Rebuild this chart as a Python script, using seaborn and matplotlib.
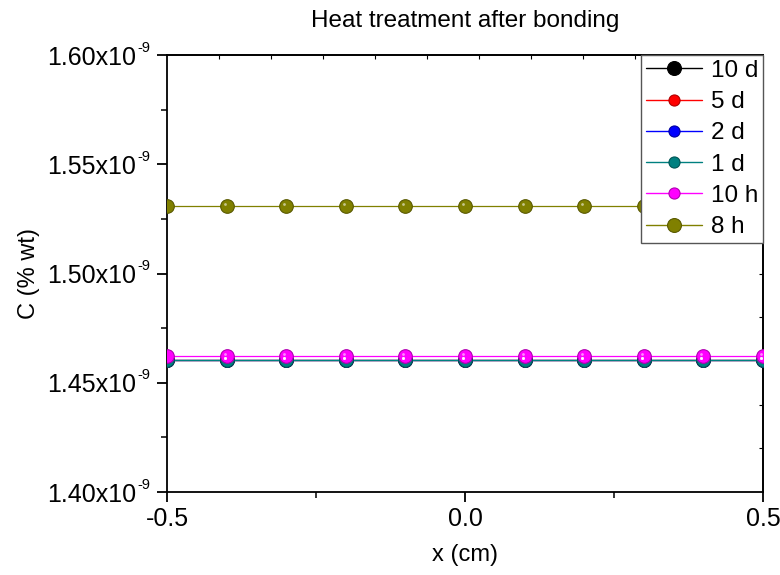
import numpy as np
import pandas as pd
import matplotlib
matplotlib.use("Agg")
import matplotlib.pyplot as plt
import matplotlib.transforms as mtransforms
from matplotlib.lines import Line2D
from matplotlib.ticker import FuncFormatter, MultipleLocator, FixedLocator
import seaborn as sns

# Concentration profiles across the bonded joint
x_cm = [-0.5, -0.4, -0.3, -0.2, -0.1, 0.0, 0.1, 0.2, 0.3, 0.4, 0.5]
series_labels = ["10 d", "5 d", "2 d", "1 d", "10 h", "8 h"]
c_10d = [1.4605e-9, 1.4605e-9, 1.4605e-9, 1.4605e-9, 1.4605e-9, 1.4605e-9,
         1.4605e-9, 1.4605e-9, 1.4605e-9, 1.4605e-9, 1.4605e-9]
c_5d = [1.4606e-9, 1.4606e-9, 1.4606e-9, 1.4606e-9, 1.4606e-9, 1.4606e-9,
        1.4606e-9, 1.4606e-9, 1.4606e-9, 1.4606e-9, 1.4606e-9]
c_2d = [1.4606e-9, 1.4606e-9, 1.4606e-9, 1.4606e-9, 1.4606e-9, 1.4606e-9,
        1.4606e-9, 1.4606e-9, 1.4606e-9, 1.4606e-9, 1.4606e-9]
c_1d = [1.4606e-9, 1.4606e-9, 1.4606e-9, 1.4606e-9, 1.4606e-9, 1.4606e-9,
        1.4606e-9, 1.4606e-9, 1.4606e-9, 1.4606e-9, 1.4606e-9]
c_10h = [1.4622e-9, 1.4622e-9, 1.4622e-9, 1.4622e-9, 1.4622e-9, 1.4622e-9,
         1.4622e-9, 1.4622e-9, 1.4622e-9, 1.4622e-9, 1.4622e-9]
c_8h = [1.5310e-9, 1.5310e-9, 1.5310e-9, 1.5310e-9, 1.5310e-9, 1.5310e-9,
        1.5310e-9, 1.5310e-9, 1.5310e-9, 1.5310e-9, 1.5310e-9]
series_values = [c_10d, c_5d, c_2d, c_1d, c_10h, c_8h]
series_colors = ["#000000", "#FF0000", "#0000FF", "#008080", "#FF00FF", "#808000"]
edge_colors = ["#000000", "#B00000", "#0000A0", "#005555", "#B000B0", "#5A5A00"]
legend_marker_sizes = [10, 8, 8, 8, 8, 10]

y_ticks = [1.40e-9, 1.45e-9, 1.50e-9, 1.55e-9, 1.60e-9]
x_ticks = [-0.5, 0.0, 0.5]
y_exponent = "-9"

sns.set_style("ticks")
plt.rcParams["font.family"] = ["Liberation Sans", "DejaVu Sans"]
plt.rcParams["text.color"] = "black"
plt.rcParams["axes.labelcolor"] = "black"
plt.rcParams["xtick.color"] = "black"
plt.rcParams["ytick.color"] = "black"

df = pd.concat(
    [pd.DataFrame({"x": x_cm, "C": vals, "series": lab})
     for lab, vals in zip(series_labels, series_values)],
    ignore_index=True,
)

fig = plt.figure(figsize=(7.8, 5.75), dpi=100)
ax = fig.add_axes([167 / 780, 83 / 575, 596 / 780, 437 / 575])

highlight = mtransforms.ScaledTranslation(-1.4 / 72, 1.4 / 72, fig.dpi_scale_trans)
for lab, col, ec in zip(series_labels, series_colors, edge_colors):
    sub = df[df["series"] == lab]
    sns.lineplot(data=sub, x="x", y="C", ax=ax, color=col, linewidth=0.9,
                 marker="o", markersize=9.8, markeredgecolor=ec,
                 markeredgewidth=0.8, legend=False, zorder=3)
    # glossy highlight on each ball marker
    ax.scatter(sub["x"], sub["C"], s=4, color="white", alpha=0.55,
               linewidths=0, zorder=4,
               transform=ax.transData + highlight)

ax.set_xlim(-0.5, 0.5)
ax.set_ylim(1.40e-9, 1.60e-9)
ax.xaxis.set_major_locator(FixedLocator(x_ticks))
ax.xaxis.set_minor_locator(MultipleLocator(0.25))
ax.yaxis.set_major_locator(FixedLocator(y_ticks))
ax.yaxis.set_minor_locator(MultipleLocator(0.025e-9))
ax.xaxis.set_major_formatter(FuncFormatter(lambda v, p: f"{v:.1f}"))
ax.yaxis.set_major_formatter(FuncFormatter(lambda v, p: f"{v * 1e9:.2f}x10"))

ax.tick_params(axis="x", which="major", direction="out", length=7,
               width=1.3, labelsize=18, pad=4)
ax.tick_params(axis="y", which="major", direction="out", length=7,
               width=1.3, labelsize=18, pad=15)
ax.tick_params(axis="both", which="minor", direction="out", length=4, width=1.1)
for sp in ax.spines.values():
    sp.set_linewidth(1.3)
    sp.set_color("black")

# small raised exponent after each y tick label
fig.canvas.draw()
for tl in ax.get_yticklabels():
    ax.annotate(y_exponent, xy=(1, 1), xycoords=tl, xytext=(0.5, 3.5),
                textcoords="offset points", ha="left", va="top",
                fontsize=10.5, annotation_clip=False)

# mirrored axes with their own fine ticks
top = ax.secondary_xaxis("top")
top.set_xticks(np.arange(-0.5 + 0.0873, 0.5, 0.0873))
top.tick_params(direction="in", length=3, width=0.8, labeltop=False)
top.spines["top"].set_linewidth(1.3)
right = ax.secondary_yaxis("right")
right.set_yticks(np.arange(1.42e-9, 1.595e-9, 0.02e-9))
right.tick_params(direction="in", length=3, width=0.8, labelright=False)
right.spines["right"].set_linewidth(1.3)

ax.set_xlabel("x (cm)", fontsize=17, labelpad=9)
ax.set_ylabel("C (% wt)", fontsize=17)
ax.yaxis.set_label_coords(-0.213, 0.5)
ax.set_title("Heat treatment after bonding", fontsize=17.5, pad=20)

handles = [
    Line2D([0], [0], color=c, linewidth=1.0, marker="o", markersize=ms,
           markerfacecolor=c, markeredgecolor=ec, markeredgewidth=0.8)
    for c, ec, ms in zip(series_colors, edge_colors, legend_marker_sizes)
]
leg = ax.legend(handles, series_labels, loc="upper right",
                bbox_to_anchor=(1.0, 1.0), borderaxespad=0, fontsize=17.5,
                frameon=True, fancybox=False, handlelength=2.3,
                handletextpad=0.35, labelspacing=0.38, borderpad=0.2)
leg.get_frame().set_edgecolor("#555555")
leg.get_frame().set_linewidth(1.0)
leg.get_frame().set_alpha(1.0)
leg.set_zorder(10)

fig.savefig("out.png", dpi=100)
